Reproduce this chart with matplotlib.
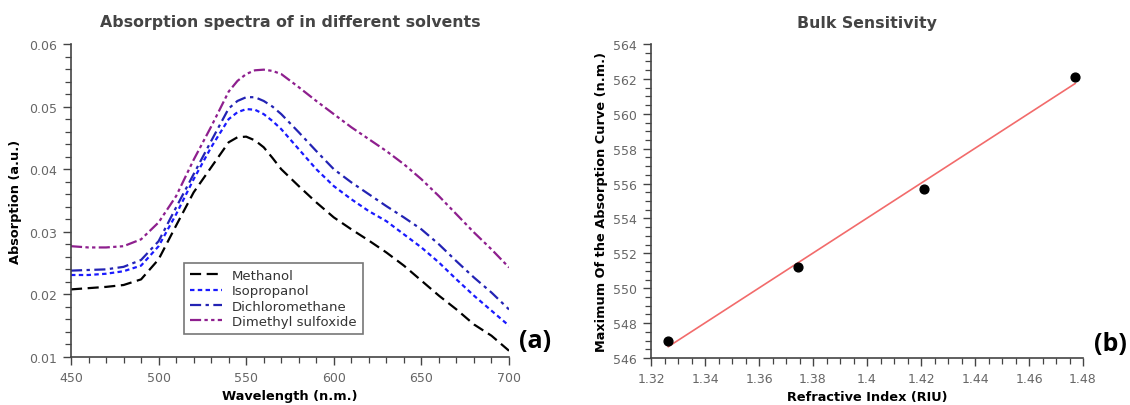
import numpy as np
import matplotlib
matplotlib.use("Agg")
import matplotlib.pyplot as plt
from matplotlib.ticker import MultipleLocator, FuncFormatter

plt.rcParams['font.family'] = ['DejaVu Sans']

# Absorption spectra (wavelength in nm)
wavelength = [450, 460, 470, 480, 490, 500, 510, 520, 530, 540, 545, 550, 555, 560, 565,
              570, 580, 590, 600, 610, 620, 630, 640, 650, 660, 670, 680, 690, 700]
methanol = [0.0208, 0.0210, 0.0212, 0.0215, 0.0224, 0.0256, 0.0310, 0.0363, 0.0403,
            0.0443, 0.0451, 0.0452, 0.0446, 0.0435, 0.0418,
            0.0400, 0.0373, 0.0347, 0.0323, 0.0304, 0.0286,
            0.0267, 0.0246, 0.0222, 0.0198, 0.0176, 0.0152, 0.0134, 0.0110]
isopropanol = [0.0231, 0.0231, 0.0233, 0.0237, 0.0246, 0.0277, 0.0328, 0.0384, 0.0435,
               0.0480, 0.0491, 0.0496, 0.0495, 0.0488, 0.0477,
               0.0464, 0.0432, 0.0400, 0.0373, 0.0352, 0.0333,
               0.0317, 0.0296, 0.0275, 0.0251, 0.0224, 0.0198, 0.0174, 0.0150]
dichloromethane = [0.0238, 0.0239, 0.0240, 0.0244, 0.0255, 0.0285, 0.0339, 0.0392, 0.0445,
                   0.0497, 0.0509, 0.0515, 0.0515, 0.0509, 0.0500,
                   0.0488, 0.0459, 0.0429, 0.0400, 0.0379, 0.0360,
                   0.0341, 0.0323, 0.0304, 0.0280, 0.0253, 0.0227, 0.0203, 0.0176]
dmso = [0.0277, 0.0275, 0.0275, 0.0277, 0.0288, 0.0315, 0.0357, 0.0415, 0.0468,
        0.0524, 0.0541, 0.0552, 0.0558, 0.0559, 0.0557,
        0.0552, 0.0531, 0.0509, 0.0488, 0.0467, 0.0448,
        0.0429, 0.0408, 0.0384, 0.0357, 0.0328, 0.0299, 0.0272, 0.0243]
solvent_names = ["Methanol", "Isopropanol", "Dichloromethane", "Dimethyl sulfoxide"]

# Bulk sensitivity: refractive index vs. wavelength of absorption maximum
refractive_index = [1.3264, 1.3746, 1.4212, 1.4771]
peak_wavelength = [547.0, 551.2, 555.7, 562.1]

fig = plt.figure(figsize=(11.3, 4.06), dpi=100)
W, H = 1130, 406

def add_axes_px(x0, y0, x1, y1):
    return fig.add_axes([x0 / W, 1 - y1 / H, (x1 - x0) / W, (y1 - y0) / H])

tick_gray = '#666666'
spine_gray = '#444444'
label_size = 9.3

def style_axes(ax):
    for s in ('top', 'right'):
        ax.spines[s].set_visible(False)
    for s in ('left', 'bottom'):
        ax.spines[s].set_color(spine_gray)
        ax.spines[s].set_linewidth(1.2)
    ax.tick_params(which='major', direction='out', length=6, width=1.0,
                   color=spine_gray, labelcolor=tick_gray, labelsize=9, pad=4)
    ax.tick_params(which='minor', direction='out', length=4, width=0.9,
                   color=spine_gray)

# ---- Panel (a) ----
ax1 = add_axes_px(71, 45, 509, 358)
styles = [
    dict(color='black', linestyle=(0, (5, 2.5))),
    dict(color='#1a1aff', linestyle=(0, (2, 1.5))),
    dict(color='#2323b4', linestyle=(0, (5, 2, 1.5, 2))),
    dict(color='#8e1f8e', linestyle=(0, (5, 1.5, 1.5, 1.5, 1.5, 1.5))),
]
for y, name, st in zip([methanol, isopropanol, dichloromethane, dmso], solvent_names, styles):
    ax1.plot(wavelength, y, linewidth=1.6, label=name, **st)
ax1.set_xlim(450, 700)
ax1.set_ylim(0.01, 0.06)
ax1.xaxis.set_major_locator(MultipleLocator(50))
ax1.xaxis.set_minor_locator(MultipleLocator(10))
ax1.yaxis.set_major_locator(MultipleLocator(0.01))
ax1.yaxis.set_minor_locator(MultipleLocator(0.002))
ax1.yaxis.set_major_formatter(FuncFormatter(lambda v, p: f"{v:.2f}"))
style_axes(ax1)
ax1.set_title("Absorption spectra of in different solvents", fontsize=11.3,
              fontweight='bold', color='#444444', pad=13)
ax1.set_xlabel("Wavelength (n.m.)", fontsize=label_size, fontweight='bold', labelpad=4)
ax1.set_ylabel("Absorption (a.u.)", fontsize=label_size, fontweight='bold', labelpad=5)
leg = ax1.legend(loc='lower left', bbox_to_anchor=((184 - 71) / 438, (358 - 335) / 313),
                 fontsize=9.5, frameon=True, fancybox=False, edgecolor='#555555',
                 handlelength=2.4, borderpad=0.45, labelspacing=0.18,
                 handletextpad=0.8, borderaxespad=0)
leg.get_frame().set_linewidth(1.2)
for t in leg.get_texts():
    t.set_color('#333333')
fig.text(519 / W, 1 - 342 / H, "(a)", fontsize=18, fontweight='bold',
         family=['Open Sans', 'DejaVu Sans'], ha='left', va='center')

# ---- Panel (b) ----
ax2 = add_axes_px(651, 45, 1083, 359)
coef = np.polyfit(refractive_index, peak_wavelength, 1)
xfit = np.array([refractive_index[0], refractive_index[-1]])
ax2.plot(xfit, np.polyval(coef, xfit), color='#f26b6b', linewidth=1.2)
ax2.scatter(refractive_index, peak_wavelength, s=40, color='black', zorder=3)
ax2.set_xlim(1.32, 1.48)
ax2.set_ylim(546, 564)
ax2.xaxis.set_major_locator(MultipleLocator(0.02))
ax2.xaxis.set_minor_locator(MultipleLocator(0.005))
ax2.yaxis.set_major_locator(MultipleLocator(2))
ax2.yaxis.set_minor_locator(MultipleLocator(0.5))
ax2.xaxis.set_major_formatter(FuncFormatter(
    lambda v, p: "1.4" if abs(v - 1.4) < 1e-9 else f"{v:.2f}"))
style_axes(ax2)
ax2.set_title("Bulk Sensitivity", fontsize=11.3, fontweight='bold',
              color='#444444', pad=12)
ax2.set_xlabel("Refractive Index (RIU)", fontsize=label_size, fontweight='bold', labelpad=4)
ax2.set_ylabel("Maximum Of the Absorption Curve (n.m.)", fontsize=label_size,
               fontweight='bold', labelpad=4)
fig.text(1094 / W, 1 - 345 / H, "(b)", fontsize=18, fontweight='bold',
         family=['Open Sans', 'DejaVu Sans'], ha='left', va='center')

fig.savefig("out.png", dpi=100, facecolor='white')
